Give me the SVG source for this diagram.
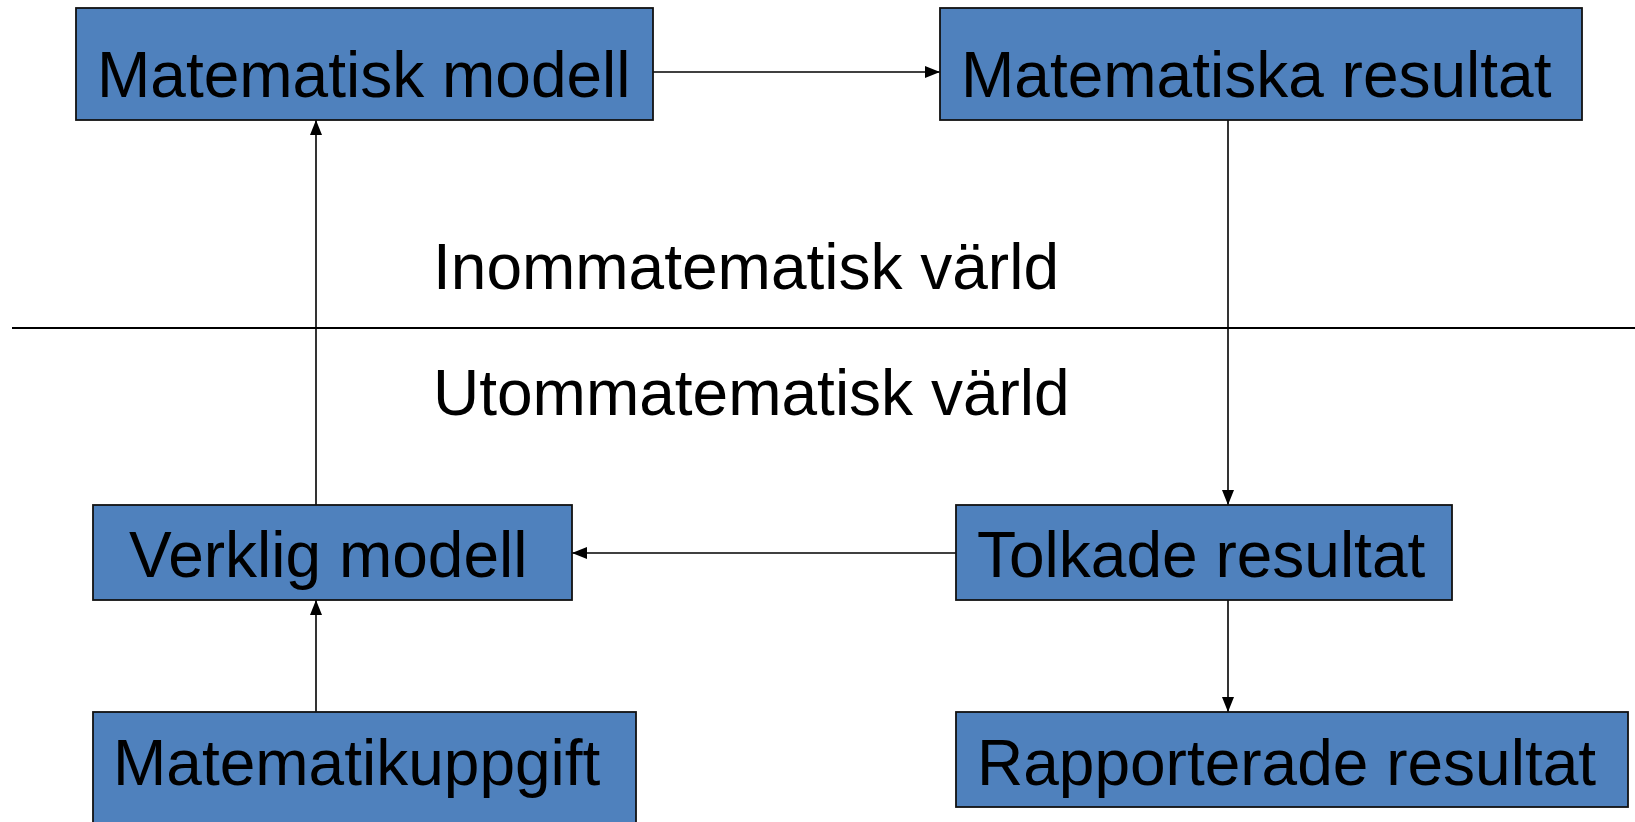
<svg xmlns="http://www.w3.org/2000/svg" width="1635" height="822" viewBox="0 0 1635 822">
<style>
.box{fill:#4F81BD;stroke:#111;stroke-width:1.8}
.t{font-family:"Liberation Sans",Arial,sans-serif;font-size:64px;fill:#000}
.c{stroke:#000;stroke-width:1.6;fill:none}
</style>
<defs>
<marker id="ah" viewBox="0 0 15 12" refX="15" refY="6" markerWidth="15" markerHeight="12" markerUnits="userSpaceOnUse" orient="auto">
<path d="M0,0 L15,6 L0,12 Z" fill="#000"/>
</marker>
</defs>
<rect width="1635" height="822" fill="#fff"/>
<g id="divider">
<line x1="12" y1="328" x2="1635" y2="328" stroke="#000" stroke-width="2"/>
<text class="t" x="433" y="289">Inommatematisk värld</text>
<text class="t" x="433" y="415">Utommatematisk värld</text>
</g>
<g id="connectors">
<line class="c" x1="653" y1="72" x2="940" y2="72" marker-end="url(#ah)"/>
<line class="c" x1="316" y1="505" x2="316" y2="120" marker-end="url(#ah)"/>
<line class="c" x1="1228" y1="120" x2="1228" y2="505" marker-end="url(#ah)"/>
<line class="c" x1="956" y1="553" x2="572" y2="553" marker-end="url(#ah)"/>
<line class="c" x1="316" y1="712" x2="316" y2="600" marker-end="url(#ah)"/>
<line class="c" x1="1228" y1="600" x2="1228" y2="712" marker-end="url(#ah)"/>
</g>
<g id="matematisk-modell">
<rect class="box" x="76" y="8" width="577" height="112"/>
<text class="t" x="97" y="97">Matematisk modell</text>
</g>
<g id="matematiska-resultat">
<rect class="box" x="940" y="8" width="642" height="112"/>
<text class="t" x="961" y="97">Matematiska resultat</text>
</g>
<g id="verklig-modell">
<rect class="box" x="93" y="505" width="479" height="95"/>
<text class="t" x="129" y="577">Verklig modell</text>
</g>
<g id="tolkade-resultat">
<rect class="box" x="956" y="505" width="496" height="95"/>
<text class="t" x="977" y="577">Tolkade resultat</text>
</g>
<g id="matematikuppgift">
<rect class="box" x="93" y="712" width="543" height="120"/>
<text class="t" x="113" y="785">Matematikuppgift</text>
</g>
<g id="rapporterade-resultat">
<rect class="box" x="956" y="712" width="672" height="95"/>
<text class="t" x="977" y="785">Rapporterade resultat</text>
</g>
</svg>
